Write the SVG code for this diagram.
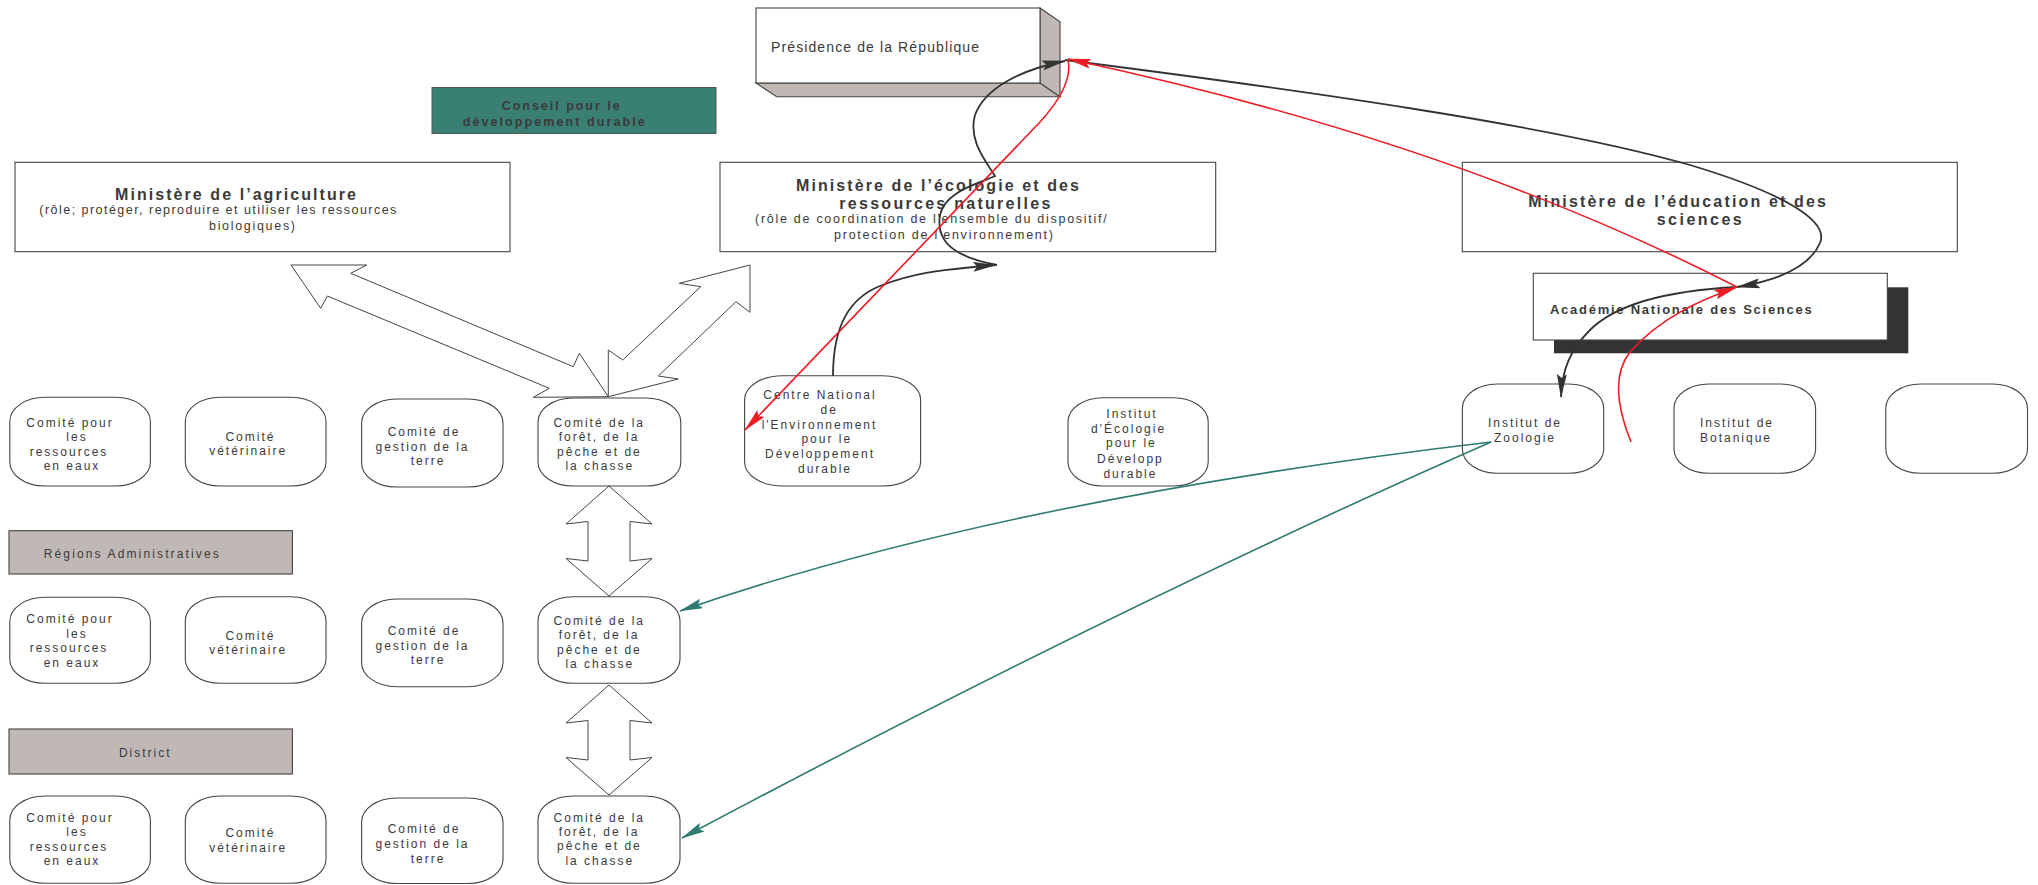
<svg xmlns="http://www.w3.org/2000/svg" width="2038" height="885" viewBox="0 0 2038 885">
<defs>
<style>
text{font-family:"Liberation Sans",Arial,sans-serif;fill:#3a3a3a}
.box{fill:#fff;stroke:#444;stroke-width:1.1}
.side{fill:#c0b8b5;stroke:#444;stroke-width:1.1}
.t{font-size:12px;letter-spacing:2px;text-anchor:middle}
.h{font-size:16px;font-weight:bold}
.s{font-size:12.5px}
.dbl{fill:#fff;stroke:#444;stroke-width:1}
.k{fill:none;stroke:#333;stroke-width:1.8}
.r{fill:none;stroke:#ee1c24;stroke-width:1.6}
.g{fill:none;stroke:#2e7b6f;stroke-width:1.6}
</style>
<marker id="ak" markerUnits="userSpaceOnUse" viewBox="0 0 24 10" markerWidth="24" markerHeight="10" refX="23" refY="5" orient="auto"><path d="M0,0 L24,5 L0,10 L4,5 Z" fill="#333"/></marker>
<marker id="ar" markerUnits="userSpaceOnUse" viewBox="0 0 24 10" markerWidth="24" markerHeight="10" refX="23" refY="5" orient="auto"><path d="M0,0 L24,5 L0,10 L4,5 Z" fill="#ee1c24"/></marker>
<marker id="ag" markerUnits="userSpaceOnUse" viewBox="0 0 24 10" markerWidth="24" markerHeight="10" refX="23" refY="5" orient="auto"><path d="M0,0 L24,5 L0,10 L4,5 Z" fill="#2e7b6f"/></marker>
</defs>
<rect width="2038" height="885" fill="#fff"/>

<g id="presidence">
<polygon class="side" points="756,83 1040,83 1060,96.7 776.7,96.7"/>
<polygon class="side" points="1040,8 1060,21.7 1060,96.7 1040,83"/>
<rect class="box" x="756" y="8" width="284" height="75"/>
<text x="771" y="52" font-size="14" textLength="208">Présidence de la République</text>
</g>

<g id="conseil">
<rect x="432" y="87.5" width="284" height="46" fill="#3a7f74" stroke="#555" stroke-width="1"/>
<text x="501.7" y="110" font-size="12.5" font-weight="bold" fill="#2e2e2e" textLength="118">Conseil pour le</text>
<text x="462.7" y="125.7" font-size="12.5" font-weight="bold" fill="#2e2e2e" textLength="182">développement durable</text>
</g>

<g id="min-agriculture">
<rect class="box" x="15" y="162.3" width="495" height="89.4"/>
<text class="h" x="115" y="200" textLength="241">Ministère de l’agriculture</text>
<text class="s" x="39.3" y="213.7" textLength="357">(rôle; protéger, reproduire et utiliser les ressources</text>
<text class="s" x="209" y="230" textLength="86">biologiques)</text>
</g>

<g id="min-ecologie">
<rect class="box" x="720" y="162.3" width="495.7" height="89.4"/>
<text class="h" x="796" y="190.7" textLength="283">Ministère de l’écologie et des</text>
<text class="h" x="839.3" y="209.3" textLength="211">ressources naturelles</text>
<text class="s" x="755" y="223.3" textLength="351.7">(rôle de coordination de l'ensemble du dispositif/</text>
<text class="s" x="834" y="239" textLength="219">protection de l'environnement)</text>
</g>

<g id="min-education">
<rect class="box" x="1462.3" y="162.3" width="495" height="89.4"/>
<text class="h" x="1528.3" y="206.7" textLength="297.7">Ministère de l’éducation et des</text>
<text class="h" x="1656.7" y="225" textLength="85">sciences</text>
</g>

<g id="academie">
<rect x="1554" y="287.3" width="354.3" height="66" fill="#333336"/>
<rect class="box" x="1533.3" y="273.3" width="354" height="66.7"/>
<text x="1550" y="314" font-size="13" font-weight="bold" textLength="261.7">Académie Nationale des Sciences</text>
</g>

<g id="regions">
<rect class="side" x="9" y="530.7" width="283.4" height="43.3"/>
<text x="43.75" y="557.7" font-size="12" textLength="175">Régions Administratives</text>
</g>
<g id="district">
<rect class="side" x="9" y="729" width="283.4" height="45"/>
<text x="145.3" y="756.7" font-size="12" letter-spacing="2" text-anchor="middle">District</text>
</g>

<g id="n-r1-eaux">
<rect class="box" x="9.8" y="397.3" width="140.6" height="88.7" rx="35" ry="24"/>
<text class="t"><tspan x="70" y="426.7">Comité pour</tspan><tspan x="77" y="441.2">les</tspan><tspan x="69" y="455.7">ressources</tspan><tspan x="72" y="470">en eaux</tspan></text>
</g>
<g id="n-r1-vet">
<rect class="box" x="185.3" y="397.3" width="140.7" height="88.7" rx="35" ry="24"/>
<text class="t"><tspan x="250.4" y="441">Comité</tspan><tspan x="248.2" y="455.3">vétérinaire</tspan></text>
</g>
<g id="n-r1-terre">
<rect class="box" x="361.6" y="399" width="141.4" height="88" rx="35" ry="24"/>
<text class="t"><tspan x="424" y="436">Comité de</tspan><tspan x="422.5" y="450.7">gestion de la</tspan><tspan x="428" y="465">terre</tspan></text>
</g>
<g id="n-r1-foret">
<rect class="box" x="538" y="398" width="142.8" height="88" rx="35" ry="24"/>
<text class="t"><tspan x="599.3" y="426.7">Comité de la</tspan><tspan x="599" y="441.3">forêt, de la</tspan><tspan x="599.4" y="455.7">pêche et de</tspan><tspan x="599.8" y="470">la chasse</tspan></text>
</g>

<g id="n-centre">
<rect class="box" x="744.6" y="375.7" width="176" height="110.3" rx="38" ry="24"/>
<text class="t"><tspan x="820" y="399">Centre National</tspan><tspan x="829.3" y="414">de</tspan><tspan x="819.5" y="428.5">l'Environnement</tspan><tspan x="826.8" y="443.3">pour le</tspan><tspan x="820" y="458.3">Développement</tspan><tspan x="825" y="472.7">durable</tspan></text>
</g>
<g id="n-ecologie">
<rect class="box" x="1068" y="397.7" width="140.2" height="88.3" rx="35" ry="24"/>
<text class="t"><tspan x="1132" y="417.7">Institut</tspan><tspan x="1128.6" y="432.7">d'Écologie</tspan><tspan x="1131.4" y="447.3">pour le</tspan><tspan x="1130.4" y="462.7">Développ</tspan><tspan x="1130.4" y="477.7">durable</tspan></text>
</g>
<g id="n-zoologie">
<rect class="box" x="1462.4" y="384" width="141.3" height="89.3" rx="35" ry="24"/>
<text class="t"><tspan x="1525" y="426.7">Institut de</tspan><tspan x="1525" y="441.7">Zoologie</tspan></text>
</g>
<g id="n-botanique">
<rect class="box" x="1674" y="384" width="141.6" height="89.3" rx="35" ry="24"/>
<text class="t"><tspan x="1737" y="426.7">Institut de</tspan><tspan x="1736" y="441.7">Botanique</tspan></text>
</g>
<g id="n-empty">
<rect class="box" x="1885.8" y="384" width="141.7" height="89.3" rx="35" ry="24"/>
</g>

<g id="n-r2-eaux">
<rect class="box" x="9.8" y="597.3" width="140.6" height="86" rx="35" ry="24"/>
<text class="t"><tspan x="70" y="623.3">Comité pour</tspan><tspan x="77" y="637.7">les</tspan><tspan x="69" y="652.2">ressources</tspan><tspan x="72" y="666.7">en eaux</tspan></text>
</g>
<g id="n-r2-vet">
<rect class="box" x="185.3" y="596.7" width="140.7" height="86.6" rx="35" ry="24"/>
<text class="t"><tspan x="250.4" y="639.5">Comité</tspan><tspan x="248.2" y="653.5">vétérinaire</tspan></text>
</g>
<g id="n-r2-terre">
<rect class="box" x="361.6" y="599" width="141.4" height="87.7" rx="35" ry="24"/>
<text class="t"><tspan x="424" y="635">Comité de</tspan><tspan x="422.5" y="650">gestion de la</tspan><tspan x="428" y="664.3">terre</tspan></text>
</g>
<g id="n-r2-foret">
<rect class="box" x="538" y="596.7" width="142" height="86.6" rx="35" ry="24"/>
<text class="t"><tspan x="599.3" y="625">Comité de la</tspan><tspan x="599" y="639.3">forêt, de la</tspan><tspan x="599.4" y="653.5">pêche et de</tspan><tspan x="599.8" y="668.3">la chasse</tspan></text>
</g>

<g id="n-r3-eaux">
<rect class="box" x="9.8" y="796" width="140.6" height="87.3" rx="35" ry="24"/>
<text class="t"><tspan x="70" y="821.7">Comité pour</tspan><tspan x="77" y="836">les</tspan><tspan x="69" y="850.7">ressources</tspan><tspan x="72" y="865">en eaux</tspan></text>
</g>
<g id="n-r3-vet">
<rect class="box" x="185.3" y="796" width="140.7" height="87.3" rx="35" ry="24"/>
<text class="t"><tspan x="250.4" y="837.3">Comité</tspan><tspan x="248.2" y="851.7">vétérinaire</tspan></text>
</g>
<g id="n-r3-terre">
<rect class="box" x="361.6" y="798" width="141.4" height="85.5" rx="35" ry="24"/>
<text class="t"><tspan x="424" y="833.3">Comité de</tspan><tspan x="422.5" y="847.7">gestion de la</tspan><tspan x="428" y="862.7">terre</tspan></text>
</g>
<g id="n-r3-foret">
<rect class="box" x="538" y="796" width="142" height="87.3" rx="35" ry="24"/>
<text class="t"><tspan x="599.3" y="821.7">Comité de la</tspan><tspan x="599" y="836">forêt, de la</tspan><tspan x="599.4" y="850.3">pêche et de</tspan><tspan x="599.8" y="865">la chasse</tspan></text>
</g>

<g id="connectors">
<polygon class="dbl" points="291,265 366.7,265 350.7,273.3 573.3,366.7 579.3,353.3 608.3,396.7 533.3,397.3 549.3,388.3 327.3,296 320.7,308.3"/>
<polygon class="dbl" points="750,265 679.3,283.3 700.7,286.7 622.7,360 608.3,350 608.3,396.7 678.3,379 658.3,376 736,301.7 750,312.3"/>
<polygon class="dbl" points="609,486 652,524 630,521.5 630,561 652,558.5 609,596 566,558.5 588,561 588,521.5 566,524"/>
<polygon class="dbl" points="609,685 652,723 630,720.5 630,760 652,757.5 609,795 566,757.5 588,760 588,720.5 566,723"/>

<path class="k" marker-end="url(#ak)" d="M833,376 C833,325 850,298 880,286 C910,274 935,270 996,265"/>
<path class="k" marker-end="url(#ak)" d="M997,265 C960,258 935,245 940,215 C945,192 975,185 995,176 C985,160 968,140 975,115 C985,88 1020,70 1065,61"/>
<path class="k" marker-end="url(#ak)" d="M1065,60 C1300,90 1550,125 1690,165 C1780,192 1830,220 1820,243 C1810,266 1780,280 1737,287"/>
<path class="k" marker-end="url(#ak)" d="M1737,287 C1680,290 1620,300 1590,330 C1570,350 1562,370 1561,397"/>

<path class="r" marker-end="url(#ar)" d="M1631,442 C1618,410 1612,375 1630,352 C1660,318 1700,300 1737,287"/>
<path class="r" marker-end="url(#ar)" d="M1737,287 Q1450,140 1068,59"/>
<path class="r" marker-end="url(#ar)" d="M1068,60 C1072,78 1060,100 1040,122 L745,430"/>

<path class="g" marker-end="url(#ag)" d="M1491,442 Q1000,500 680,611"/>
<path class="g" marker-end="url(#ag)" d="M1491,442 Q1120,605 682,838"/>
</g>
</svg>
